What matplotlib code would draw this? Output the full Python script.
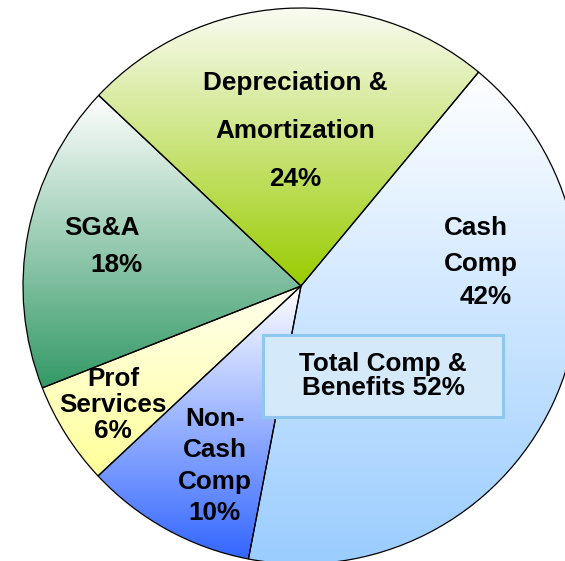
import numpy as np
import matplotlib
matplotlib.use("Agg")
import matplotlib.pyplot as plt
from matplotlib.colors import to_rgba
from matplotlib.patches import FancyBboxPatch

# slices, clockwise starting from Cash Comp
labels = ["Cash\nComp\n42%", "Non-\nCash\nComp\n10%", "Prof\nServices\n6%",
          "SG&A\n18%", "Depreciation &\nAmortization\n24%"]
values = [42, 10, 6, 18, 24]
top_colors = ["#ffffff", "#ffffff", "#ffffee", "#ffffff", "#fbfcf6"]
bottom_colors = ["#99ccff", "#3366ff", "#ffff99", "#339966", "#99cc00"]
total_label = "Total Comp &\nBenefits 52%"

W, H = 565, 561
fig = plt.figure(figsize=(W / 100, H / 100), dpi=100)
ax = fig.add_axes([0, 0, 1, 1])

cx, cy, r = 301, H - 286, 278
wedges, _ = ax.pie(values, startangle=50.3, counterclock=False,
                   center=(cx, cy), radius=r,
                   wedgeprops=dict(edgecolor="black", linewidth=0.9, zorder=3))

# vertical gradient inside each wedge
for w, c0, c1 in zip(wedges, top_colors, bottom_colors):
    w.set_facecolor("none")
    v = w.get_path().vertices
    x0, x1 = v[:, 0].min(), v[:, 0].max()
    y0, y1 = v[:, 1].min(), v[:, 1].max()
    t = np.linspace(0, 1, 256)[:, None]
    a, b = np.array(to_rgba(c0)), np.array(to_rgba(c1))
    grad = (a * (1 - t) + b * t)[:, None, :]
    im = ax.imshow(grad, extent=[x0, x1, y0, y1], aspect="auto",
                   interpolation="bilinear", zorder=1)
    im.set_clip_path(w)

font = dict(family=["Liberation Sans", "DejaVu Sans"], weight="bold",
            fontsize=18.8, color="black")

# label text placement (pixel coordinates from the top)
ax.text(295, H - 131, labels[4], ha="center", va="center",
        linespacing=2.25, zorder=5, **font)
ax.text(102, H - 228, "SG&A", ha="center", va="center", zorder=5, **font)
ax.text(117, H - 265, "18%", ha="center", va="center", zorder=5, **font)
ax.text(476, H - 228, "Cash", ha="center", va="center", zorder=5, **font)
ax.text(481, H - 264, "Comp", ha="center", va="center", zorder=5, **font)
ax.text(486, H - 297, "42%", ha="center", va="center", zorder=5, **font)
ax.text(113, H - 405, labels[2], ha="center", va="center",
        linespacing=1.08, zorder=5, **font)
ax.text(215, H - 466, labels[1], ha="center", va="center",
        linespacing=1.4, zorder=5, **font)

box = FancyBboxPatch((263, H - 417), 240, 82, boxstyle="square,pad=0",
                     facecolor="#d4e9f9", edgecolor="#8ec8ef", linewidth=2.2,
                     zorder=4)
ax.add_patch(box)
ax.text(383, H - 376, total_label, ha="center", va="center",
        linespacing=1.0, zorder=5, **font)

ax.set_xlim(0, W)
ax.set_ylim(0, H)
ax.set_aspect("auto")
ax.axis("off")

fig.savefig("out.png", dpi=100)
